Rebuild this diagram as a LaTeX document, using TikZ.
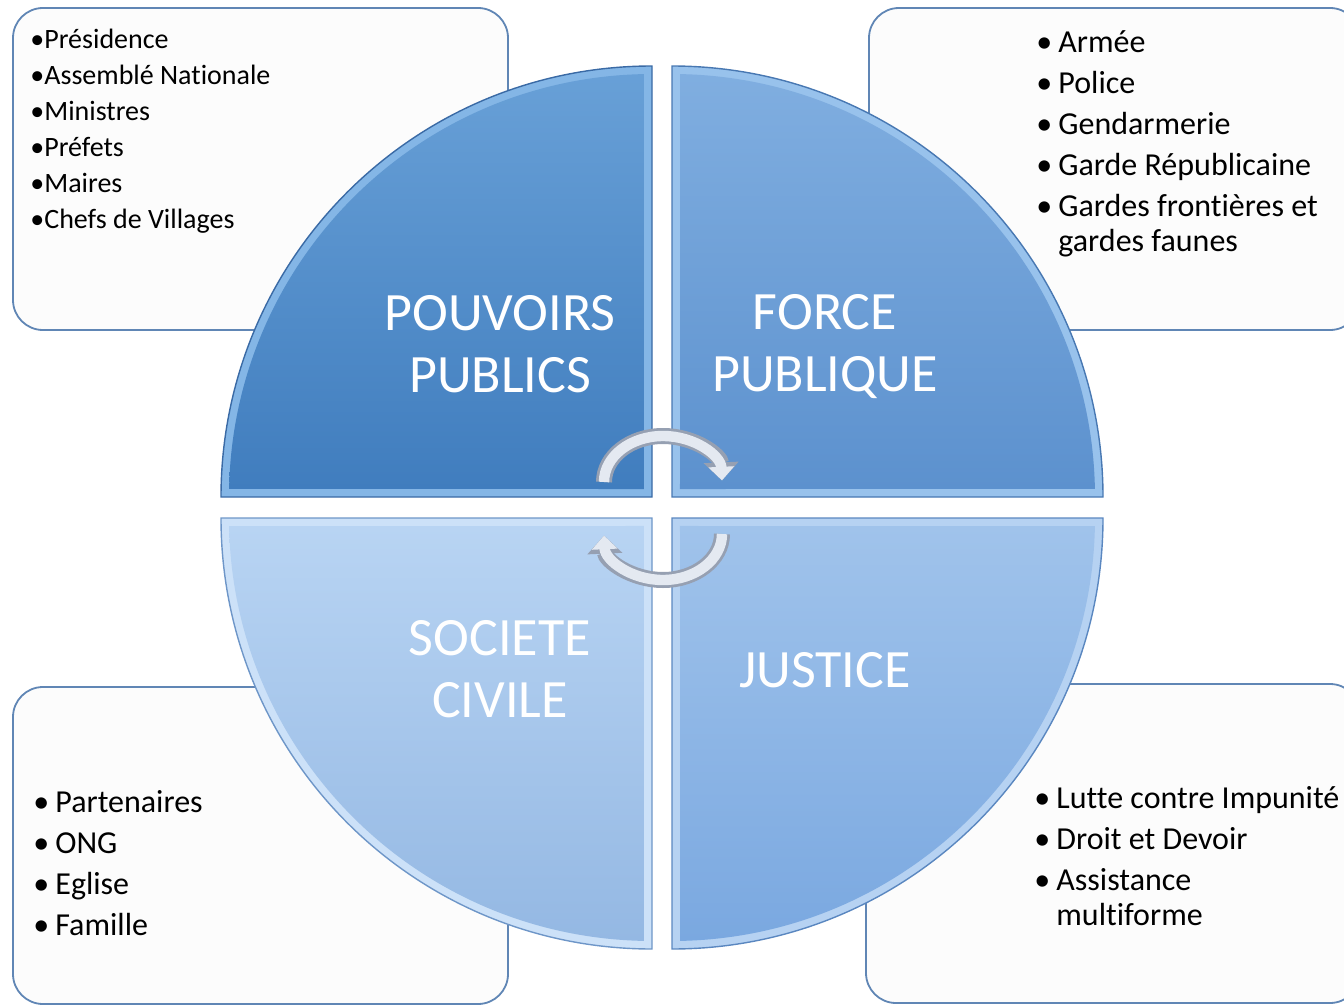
\documentclass[tikz,border=0pt]{standalone}
\usepackage{fontspec}
\setmainfont{Carlito}[Ligatures={NoCommon,NoContextual,NoRequired}]
\usepackage{tikz}
\usetikzlibrary{arrows.meta}

\newcommand{\puce}{\makebox[11pt][l]{•}}

\tikzset{
  listbox/.style={draw=boxline, line width=0.9pt, fill=boxfill, rounded corners=15pt},
  listtext/.style={anchor=base west, inner sep=0pt, text=black, font=\fontsize{16}{17.5}\selectfont},
  biglabel/.style={text=white, align=center, inner sep=0pt, font=\fontsize{27}{31}\selectfont},
  cyclerim/.style={line width=8pt, draw=arrowline, -{Triangle[width=17pt,length=9pt]}},
  cyclefill/.style={line width=5.2pt, draw=arrowfill, -{Triangle[width=12.5pt,length=6.8pt]}},
  pp band/.style={fill=ppband}, pp face/.style={top color=pptop, bottom color=ppbot}, pp edge/.style={draw=ppedge, line width=0.7pt},
  fp band/.style={fill=fpband}, fp face/.style={top color=fptop, bottom color=fpbot}, fp edge/.style={draw=fpedge, line width=0.7pt},
  sc band/.style={fill=scband}, sc face/.style={top color=sctop, bottom color=scbot}, sc edge/.style={draw=scedge, line width=0.7pt},
  ju band/.style={fill=juband}, ju face/.style={top color=jutop, bottom color=jubot}, ju edge/.style={draw=juedge, line width=0.7pt},
}

\begin{document}
\begin{tikzpicture}[x=0.5pt, y=-0.5pt]
            % Цвета
            \definecolor{boxline}{RGB}{96,134,181}
            \definecolor{boxfill}{RGB}{252,252,252}
            \definecolor{pptop}{RGB}{104,160,215}
            \definecolor{ppbot}{RGB}{64,125,190}
            \definecolor{ppband}{RGB}{132,182,230}
            \definecolor{ppedge}{RGB}{58,106,165}
            \definecolor{fptop}{RGB}{128,174,224}
            \definecolor{fpbot}{RGB}{92,145,206}
            \definecolor{fpband}{RGB}{152,194,236}
            \definecolor{fpedge}{RGB}{72,120,178}
            \definecolor{sctop}{RGB}{184,212,243}
            \definecolor{scbot}{RGB}{148,184,227}
            \definecolor{scband}{RGB}{204,225,248}
            \definecolor{scedge}{RGB}{110,150,200}
            \definecolor{jutop}{RGB}{160,195,235}
            \definecolor{jubot}{RGB}{122,168,224}
            \definecolor{juband}{RGB}{182,210,242}
            \definecolor{juedge}{RGB}{90,135,192}
            \definecolor{arrowline}{RGB}{150,160,178}
            \definecolor{arrowfill}{RGB}{228,233,241}

            \useasboundingbox (0,0) rectangle (1344,1006);

            % Блоки
            \draw[listbox] (13,8) rectangle (508,330);
            \draw[listbox] (869,8) rectangle (1360,330);
            \draw[listbox] (13,687) rectangle (508,1004);
            \draw[listbox] (866,684) rectangle (1360,1003);

            % Сектора
            \foreach \cx/\cy/\sa/\q in {652/497/180/pp, 672/497/270/fp, 652/518/90/sc, 672/518/0/ju}{
                \fill[\q\space band] (\cx,\cy) -- ++(\sa:431) arc[start angle=\sa, delta angle=90, radius=431] -- cycle;
                \shade[\q\space face] ([shift={(\cx,\cy)}]\sa+45:11.3) -- ([shift={(\cx,\cy)}]\sa+1.1:423)
                    arc[start angle=\sa+1.1, end angle=\sa+88.9, radius=423] -- cycle;
                \draw[\q\space edge] (\cx,\cy) -- ++(\sa:431) arc[start angle=\sa, delta angle=90, radius=431] -- cycle;
            }

            % Текст
            \node[biglabel] (pouvoirs) at (500,344) {POUVOIRS\\PUBLICS};
            \node[biglabel] (force) at (825,347) {FORCE\\PUBLIQUE};
            \node[biglabel] (societe) at (500,669) {SOCIETE\\CIVILE};
            \node[biglabel] (justice) at (825,670) {JUSTICE};

            \node[listtext, font=\fontsize{14}{18}\selectfont] (pouvoirslist) at (30,49) {%
                \begin{tabular}[t]{@{}l@{}}
                •Présidence\\ •Assemblé Nationale\\ •Ministres\\ •Préfets\\ •Maires\\ •Chefs de Villages
                \end{tabular}};
            \node[listtext] (forcelist) at (1036,53) {%
                \begin{tabular}[t]{@{}l@{}}
                \puce Armée\\[3pt] \puce Police\\[3pt] \puce Gendarmerie\\[3pt] \puce Garde Républicaine\\[3pt]
                \puce Gardes frontières et\\ \hspace*{11pt}gardes faunes
                \end{tabular}};
            \node[listtext] (societelist) at (33,812) {%
                \begin{tabular}[t]{@{}l@{}}
                \puce Partenaires\\[3pt] \puce ONG\\[3pt] \puce Eglise\\[3pt] \puce Famille
                \end{tabular}};
            \node[listtext] (justicelist) at (1034,808) {%
                \begin{tabular}[t]{@{}l@{}}
                \puce Lutte contre Impunité\\[3pt] \puce Droit et Devoir\\[3pt] \puce Assistance\\ \hspace*{11pt}multiforme
                \end{tabular}};

            % Стрелки
            \coordinate (cycletop) at (604,482);
            \coordinate (cyclebottom) at (722,534);
            \draw[cyclerim] (cycletop) arc[start angle=180, end angle=358, x radius=59, y radius=46];
            \draw[cyclefill] (cycletop) arc[start angle=180, end angle=358, x radius=59, y radius=46];
            \draw[cyclerim] (cyclebottom) arc[start angle=0, end angle=178, x radius=59, y radius=46];
            \draw[cyclefill] (cyclebottom) arc[start angle=0, end angle=178, x radius=59, y radius=46];

        \end{tikzpicture}
\end{document}
